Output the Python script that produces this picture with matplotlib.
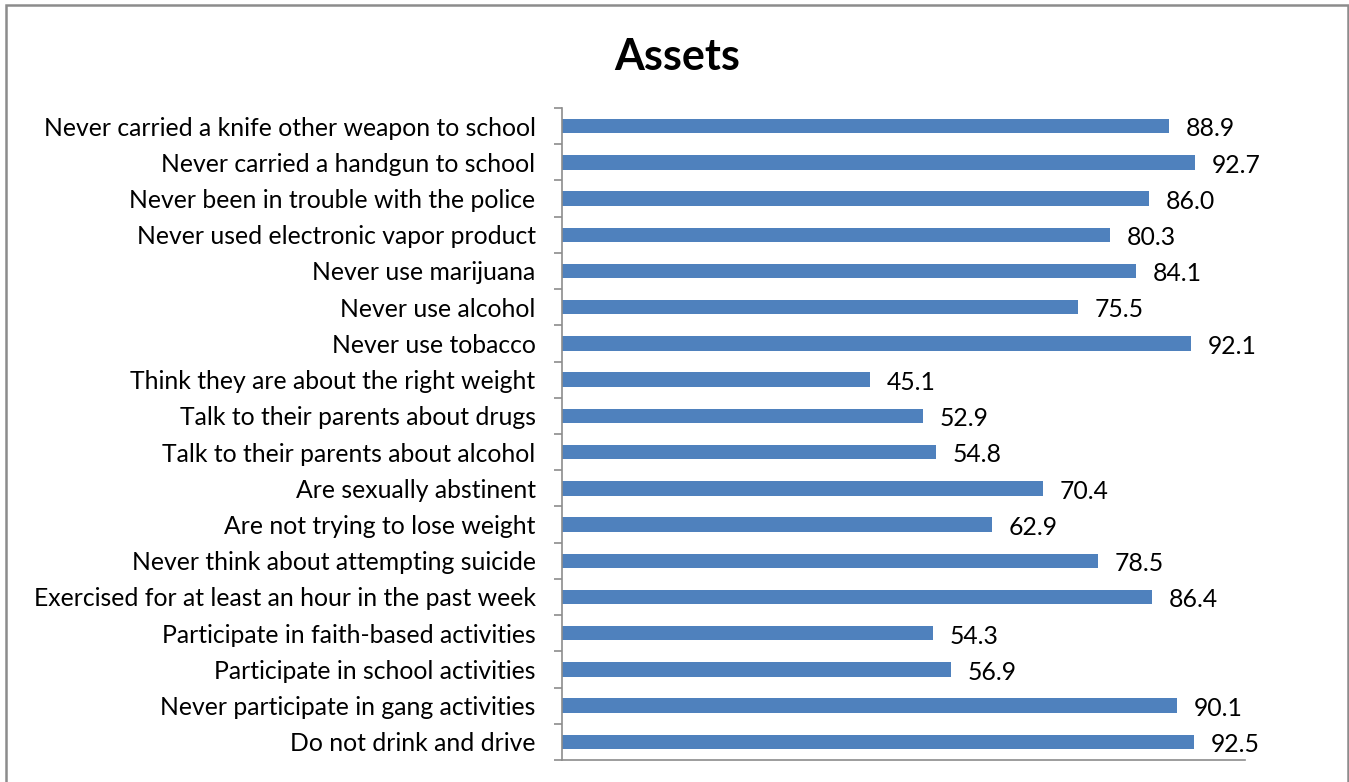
import matplotlib.pyplot as plt
import matplotlib.patches as patches
import numpy as np

# Données (de haut en bas)
categories = [
    "Never carried a knife other weapon to school",
    "Never carried a handgun to school",
    "Never been in trouble with the police",
    "Never used electronic vapor product",
    "Never use marijuana",
    "Never use alcohol",
    "Never use tobacco",
    "Think they are about the right weight",
    "Talk to their parents about drugs",
    "Talk to their parents about alcohol",
    "Are sexually abstinent",
    "Are not trying to lose weight",
    "Never think about attempting suicide",
    "Exercised for at least an hour in the past week",
    "Participate in faith-based activities",
    "Participate in school activities",
    "Never participate in gang activities",
    "Do not drink and drive",
]
values = [88.9, 92.7, 86.0, 80.3, 84.1, 75.5, 92.1, 45.1, 52.9, 54.8,
          70.4, 62.9, 78.5, 86.4, 54.3, 56.9, 90.1, 92.5]

plt.rcParams['font.family'] = ['Lato', 'DejaVu Sans']

W, H = 1349, 782
fig = plt.figure(figsize=(W / 100, H / 100), dpi=100)
ax = fig.add_axes([562 / W, 1 - 760 / H, (1245 - 562) / W, (760 - 108) / H])

y = np.arange(len(categories))
ax.barh(y, values, height=0.4, color='#4F81BD')
ax.set_xlim(0, 100)
ax.set_ylim(len(categories) - 0.5, -0.5)

for yi, v in zip(y, values):
    ax.annotate(f"{v:.1f}", (v, yi), xytext=(12, -2), textcoords='offset points',
                va='center', ha='left', fontsize=17.8)

ax.set_yticks(y)
ax.set_yticklabels(categories, fontsize=17.8)
ax.tick_params(axis='y', which='major', length=0, pad=19)
ax.set_yticks(np.arange(len(categories) + 1) - 0.5, minor=True)
ax.tick_params(axis='y', which='minor', length=6, width=1.2, color='#8c8c8c', direction='out')
ax.set_xticks([])

for side in ['top', 'right']:
    ax.spines[side].set_visible(False)
for side in ['left', 'bottom']:
    ax.spines[side].set_color('#8c8c8c')
    ax.spines[side].set_linewidth(1.2)

fig.text(677 / W, 1 - 57 / H, "Assets", ha='center', va='center',
         fontsize=31, fontweight='bold')

# Cadre gris autour du graphique
fig.patches.append(patches.Rectangle((5.5 / W, -0.02), (1347.5 - 5.5) / W, 1.02 - 5.5 / H,
                                     transform=fig.transFigure, fill=False,
                                     edgecolor='#8c8c8c', linewidth=1.8))

fig.savefig("out.png", dpi=100)
